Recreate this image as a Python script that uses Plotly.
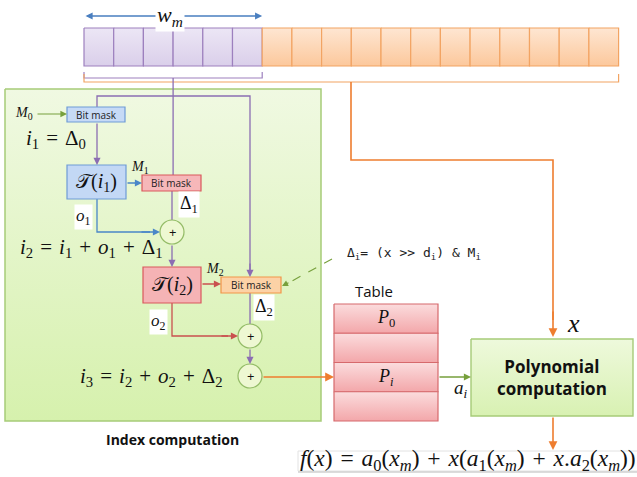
import plotly.graph_objects as go

# ---- content ----
n_purple_cells = 6
n_orange_cells = 12
table_rows = ["<i>P</i><sub>0</sub>", "", "<i>P<sub>i</sub></i>", ""]
bitmask_label = "Bit mask"
S = "\u2004"  # math spacing
label_wm = "<i>w<sub>m</sub></i>"
label_i1 = f"<i>i</i><sub>1</sub>{S}={S}Δ<sub>0</sub>"
label_i2 = (f"<i>i</i><sub>2</sub>{S}={S}<i>i</i><sub>1</sub>{S}+{S}<i>o</i><sub>1</sub>"
            f"{S}+{S}Δ<sub>1</sub>")
label_i3 = (f"<i>i</i><sub>3</sub>{S}={S}<i>i</i><sub>2</sub>{S}+{S}<i>o</i><sub>2</sub>"
            f"{S}+{S}Δ<sub>2</sub>")
label_T1 = "𝒯(<i>i</i><sub>1</sub>)"
label_T2 = "𝒯(<i>i</i><sub>2</sub>)"
label_delta = "Δ<sub>i</sub>= (x >> d<sub>i</sub>) & M<sub>i</sub>"
label_f = (f"<i>f</i>(<i>x</i>){S}={S}<i>a</i><sub>0</sub>(<i>x<sub>m</sub></i>){S}+{S}<i>x</i>(<i>a</i><sub>1</sub>"
           f"(<i>x<sub>m</sub></i>){S}+{S}<i>x</i>.<i>a</i><sub>2</sub>(<i>x<sub>m</sub></i>))")

W, H = 637, 477
SERIF = "Liberation Serif"
SANS = "Open Sans"

PURPLE = "#8b6db2"
BLUE = "#4a86c8"
RED = "#c9504f"
ORANGE = "#ee7d2f"
GREEN = "#77a03c"

shapes = []
annots = []
fig = go.Figure()


def grad_rect(x0, y0, x1, y1, c_top, c_bot, border, width=1.2):
    fig.add_trace(go.Scatter(
        x=[x0, x1, x1, x0, x0], y=[y0, y0, y1, y1, y0], mode="lines",
        fill="toself", line=dict(color=border, width=width),
        fillgradient=dict(type="vertical", start=y0, stop=y1,
                          colorscale=[[0, c_top], [1, c_bot]]),
        hoverinfo="skip", showlegend=False))


def line(pts, color, width=1.3, dash=None):
    d = "M " + " L ".join(f"{x},{y}" for x, y in pts)
    shapes.append(dict(type="path", path=d, xref="x", yref="y",
                       line=dict(color=color, width=width, dash=dash)))


def rect(x0, y0, x1, y1, fill, border, width=1.2):
    shapes.append(dict(type="rect", x0=x0, y0=y0, x1=x1, y1=y1, xref="x", yref="y",
                       fillcolor=fill, line=dict(color=border, width=width)))


def circle(cx, cy, r, fill, border):
    shapes.append(dict(type="circle", x0=cx - r, x1=cx + r, y0=cy - r, y1=cy + r,
                       xref="x", yref="y", fillcolor=fill, line=dict(color=border, width=1.2)))


def arrow(x0, y0, x1, y1, color, width=1.3, side="end"):
    annots.append(dict(x=x1, y=y1, ax=x0, ay=y0, xref="x", yref="y", axref="x", ayref="y",
                       showarrow=True, arrowhead=2, arrowsize=1.1, arrowwidth=width,
                       arrowcolor=color, arrowside=side, text=""))


def text(x, y, s, size=12, color="#111", family=SANS, anchor="center", bg=None, bold=False):
    if bold:
        s = "<b>" + s + "</b>"
    d = dict(x=x, y=y, xref="x", yref="y", text=s, showarrow=False, xanchor=anchor,
             yanchor="middle", font=dict(size=size, color=color, family=family))
    if bg:
        d["bgcolor"] = bg
    annots.append(d)


# ---- green index computation box ----
grad_rect(5, 89, 321, 421, "#f0f9e2", "#d6f1ad", "#a6cb78", 1.5)
text(172, 439, "Index computation", 14, "#111", SANS, bold=True)

# ---- top bit field ----
x_start, cell_w, y0, y1 = 84, 29.7, 28, 66
for k in range(n_purple_cells + n_orange_cells):
    xa = x_start + k * cell_w
    if k < n_purple_cells:
        grad_rect(xa, y0, xa + cell_w, y1, "#ece6f5", "#dacfea", "#9d80be", 1.2)
    else:
        grad_rect(xa, y0, xa + cell_w, y1, "#fee6d2", "#fcc89c", "#f2a463", 1.2)
x_mid = x_start + n_purple_cells * cell_w
x_end = x_start + (n_purple_cells + n_orange_cells) * cell_w

# w_m arrow
arrow(x_start, 16, x_mid, 16, "#4a7fc0", 1.3, side="end+start")
text(170, 16, label_wm, 22, "#111", SERIF, bg="white")

# braces
pc = (x_start + x_mid) / 2
line([(x_start, 72), (x_start, 78), (x_mid, 78), (x_mid, 72)], "#9d80be", 1.2)
line([(x_start, 74), (x_start, 82), (x_end, 82), (x_end, 74)], "#f2a463", 1.2)

# orange path to polynomial box
oc = 351
line([(oc, 82), (oc, 160), (553, 160), (553, 320)], ORANGE, 1.6)
arrow(553, 310, 553, 337, ORANGE, 1.6)

# ---- purple lines ----
line([(pc, 78), (pc, 175)], PURPLE)
line([(97, 107), (97, 96), (250, 96), (250, 270)], PURPLE)
arrow(250, 262, 250, 277, PURPLE)
arrow(97, 122, 97, 165, PURPLE)
line([(172, 191), (172, 220)], PURPLE)
arrow(172, 244, 172, 267, PURPLE)
line([(250, 293), (250, 324)], PURPLE)
arrow(250, 348, 250, 364, PURPLE)

# blue / red lines
arrow(126, 183, 142, 183, BLUE)
line([(97, 199), (97, 232), (150, 232)], BLUE)
arrow(140, 232, 160, 232, BLUE)
arrow(201, 284, 221, 284, RED)
line([(172, 303), (172, 336), (228, 336)], RED)
arrow(220, 336, 238, 336, RED)

# M0 arrow
arrow(36, 114, 67, 114, GREEN, 1.2)

# dashed green arrow
line([(332, 259), (292, 281)], GREEN, 1.1, "dash")
arrow(290, 282, 282, 286, GREEN, 1.1)

# orange i3 to table
arrow(262, 377, 334, 377, ORANGE, 1.6)
# a_i
arrow(438, 377, 471, 377, GREEN, 1.3)
# output
arrow(553, 416, 553, 450, ORANGE, 1.6)

# ---- boxes ----
rect(67, 107, 125, 122, "#c6daf6", "#6e9bd6")
text(96, 114.5, bitmask_label, 10, "#222", SANS)
rect(67, 165, 126, 199, "#c3d8f5", "#6e9bd6")
text(96.5, 182, label_T1, 20, "#111", SERIF)
rect(142, 175, 201, 191, "#f6b7b9", "#d9585c")
text(171.5, 183, bitmask_label, 10, "#222", SANS)
rect(143, 267, 201, 303, "#f5b3b5", "#d9585c")
text(172, 285, label_T2, 20, "#111", SERIF)
rect(221, 277, 281, 293, "#fcd2a6", "#f19548")
text(251, 285, bitmask_label, 10, "#222", SANS)

for cx, cy in [(172, 232), (250, 336), (250, 376)]:
    circle(cx, cy, 12, "#eef8d2", "#93bb66")
    text(cx, cy, "+", 13, "#111", SANS)

# labels inside green box
text(13, 113, "<i>M</i><sub>0</sub>", 14, "#111", SERIF, anchor="left")
text(24, 139, label_i1, 21, "#111", SERIF, anchor="left")
text(129, 167, "<i>M</i><sub>1</sub>", 14, "#111", SERIF, anchor="left")
text(178, 204, "Δ<sub>1</sub>", 18, "#111", SERIF, anchor="left", bg="white")
text(74, 217, "<i>o</i><sub>1</sub>", 17, "#111", SERIF, anchor="left", bg="white")
text(18, 248, label_i2, 21, "#111", SERIF, anchor="left")
text(204, 269, "<i>M</i><sub>2</sub>", 14, "#111", SERIF, anchor="left")
text(253, 307, "Δ<sub>2</sub>", 18, "#111", SERIF, anchor="left", bg="white")
text(149, 322, "<i>o</i><sub>2</sub>", 17, "#111", SERIF, anchor="left", bg="white")
text(78, 377, label_i3, 21, "#111", SERIF, anchor="left")

# delta formula
text(345, 253, label_delta, 13, "#222", "DejaVu Sans Mono", anchor="left")

# table
text(374, 291, "Table", 15, "#111", SANS)
row_h = (421 - 304) / len(table_rows)
for k, lab in enumerate(table_rows):
    ya = 304 + k * row_h
    grad_rect(334, ya, 438, ya + row_h, "#fbdcdd", "#f3a7aa", "#d6696c", 1.2)
    if lab:
        text(386, ya + row_h / 2, lab, 18, "#111", SERIF)
text(452, 389, "<i>a<sub>i</sub></i>", 19, "#111", SERIF, anchor="left")

# polynomial box
grad_rect(471, 339, 633, 416, "#eef9dc", "#d8f1b2", "#a6cb78", 1.4)
text(552, 377, "Polynomial<br>computation", 17, "#111", SANS, bold=True)
text(573, 323, "<i>x</i>", 26, "#111", SERIF)

# final formula
rect(298, 451, 660, 471, "white", "#e2e2e2", 1)
line([(298, 472), (660, 472)], "#d0d0d0", 1.5)
text(298, 460, label_f, 23.5, "#111", SERIF, anchor="left")

fig.update_layout(
    width=W, height=H, margin=dict(l=0, r=0, t=0, b=0),
    paper_bgcolor="white", plot_bgcolor="white",
    xaxis=dict(range=[0, W], visible=False, fixedrange=True),
    yaxis=dict(range=[H, 0], visible=False, fixedrange=True),
    shapes=shapes, annotations=annots, showlegend=False,
)
fig.write_html("out.html", config={"displayModeBar": False},
               post_script="document.body.style.margin='0';")
